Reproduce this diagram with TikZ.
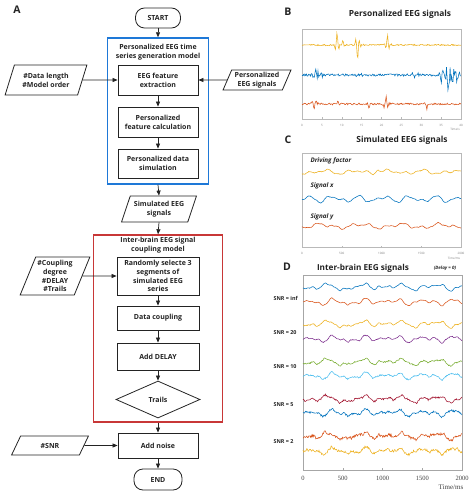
\documentclass[tikz,border=0pt]{standalone}
\usepackage{fontspec}
\setmainfont{Open Sans}
\newfontfamily\tnr{Liberation Serif}
\usetikzlibrary{arrows.meta,shapes.geometric}
\definecolor{mblue}{RGB}{0,114,189}
\definecolor{morange}{RGB}{217,83,25}
\definecolor{myellow}{RGB}{237,177,32}
\definecolor{mpurple}{RGB}{126,47,142}
\definecolor{mgreen}{RGB}{119,172,48}
\definecolor{mcyan}{RGB}{77,190,238}
\definecolor{mcrimson}{RGB}{162,20,47}
\definecolor{boxblue}{RGB}{30,120,215}
\definecolor{boxred}{RGB}{200,55,55}
\definecolor{ink}{RGB}{35,35,35}
\newcommand\ftxt{\fontsize{7}{8.8}\selectfont\bfseries}
\newcommand\fttl{\fontsize{8.4}{10}\selectfont\bfseries}
\newcommand\fpanel{\fontsize{10.5}{12}\selectfont\bfseries}
\newcommand\ftick{\fontsize{3}{3.6}\selectfont}
\tikzset{
  proc/.style={draw=ink, line width=0.8pt, fill=white, text=ink, minimum width=80pt, align=center, font=\ftxt, inner sep=1pt},
  io/.style={trapezium, trapezium left angle=66, trapezium right angle=114, trapezium stretches=true, draw=ink, line width=0.8pt, text=ink, align=center, font=\ftxt, inner sep=1pt},
  term/.style={draw=ink, rounded corners=9pt, line width=0.8pt, text=ink, align=center, font=\ftxt, inner sep=1pt},
  arr/.style={-{Triangle[length=5pt,width=4pt]}, line width=0.7pt, draw=ink},
  ttl/.style={font=\fttl, text=ink},
  pl/.style={font=\fpanel, text=ink},
  sig/.style={line width=0.55pt},
  frm/.style={draw=gray!55, line width=0.4pt},
  declare function={
    tri(\p,\c,\w)=max(0,1-abs(\p-\c)/\w);
    spk(\p,\c,\w)=tri(\p,\c,\w)*tri(\p,\c,\w)*cos(90*(\p-\c));
    bur(\p,\c,\w)=tri(\p,\c,\w)*rand;
    bump(\p,\c,\w)=tri(\p,\c,\w)*tri(\p,\c,\w);
    gA(\p)=2.0*sin(10*\p+40)+1.5*sin(19*\p+160)+0.9*sin(33*\p+300)+0.4*sin(61*\p)+2.4*bump(\p,44,7)-2.6*bump(\p,76,10);
    gB(\p)=1.8*sin(12*\p+250)+1.4*sin(21*\p+20)+0.9*sin(31*\p+120)+0.4*sin(57*\p+90)-2.2*bump(\p,77,12)+1.6*bump(\p,45,6);
  }
}
\begin{document}
\begin{tikzpicture}[x=1pt,y=-1pt]
\useasboundingbox (0,0) rectangle (474,492);
\pgfmathsetseed{7}
% ---------------- Panel A -----------------
\node[pl] (la) at (17,10) {A};
\node[term, minimum width=45pt, minimum height=20pt] (start) at (158,18) {START};
\node[draw=boxblue, line width=1.4pt, minimum width=101pt, minimum height=146pt, inner sep=0pt] (blue) at (158,111) {};
\node[font=\ftxt, text=ink, align=center] (bt) at (158,52) {Personalized EEG time\\series generation model};
\node[proc, minimum height=30pt] (b1) at (158,80) {EEG feature\\extraction};
\node[proc, minimum height=30pt] (b2) at (158,122) {Personalized\\feature calculation};
\node[proc, minimum height=29pt] (b3) at (158,163.5) {Personalized data\\simulation};
\node[io, minimum width=82pt, minimum height=30pt] (p1) at (46,80) {\#Data length\\\#Model order};
\node[io, minimum width=68pt, minimum height=20pt] (p2) at (257,80) {Personalized\\EEG signals};
\node[io, minimum width=75pt, minimum height=26pt] (sim) at (159,209) {Simulated EEG\\signals};
\node[draw=boxred, line width=1.4pt, minimum width=129pt, minimum height=187pt, inner sep=0pt] (red) at (158,328.5) {};
\node[font=\ftxt, text=ink, align=center] (rt) at (158,245) {Inter-brain EEG signal\\coupling model};
\node[proc, minimum width=82pt, minimum height=38pt] (r1) at (158,276) {Randomly selecte 3\\segments of\\simulated EEG\\series};
\node[io, minimum width=70pt, minimum height=38pt] (p3) at (55,276) {\#Coupling\\degree\\\#DELAY\\\#Trails};
\node[proc, minimum width=82pt, minimum height=24pt] (r2) at (158,318) {Data coupling};
\node[proc, minimum width=82pt, minimum height=27pt] (r3) at (158,356.5) {Add DELAY};
\node[diamond, draw=ink, line width=0.8pt, text=ink, font=\ftxt, minimum width=84pt, minimum height=37pt, inner sep=0pt] (tr) at (158,399.5) {Trails};
\node[proc, minimum width=80pt, minimum height=25pt] (noise) at (158,445.5) {Add noise};
\node[io, minimum width=77pt, minimum height=19pt] (snr) at (50,445.5) {\#SNR};
\node[term, minimum width=48pt, minimum height=21pt] (end) at (158,479.5) {END};
\draw[arr] (start) -- (blue.north);
\draw[arr] (p1.east) -- (b1.west);
\draw[arr] (p2.west) -- (b1.east);
\draw[arr] (b1) -- (b2);
\draw[arr] (b2) -- (b3);
\draw[arr] (blue.south) -- (sim.north);
\draw[arr] (sim.south) -- (red.north);
\draw[arr] (p3.east) -- (r1.west);
\draw[arr] (r1) -- (r2);
\draw[arr] (r2) -- (r3);
\draw[arr] (r3) -- (tr);
\draw[arr] (red.south) -- (noise.north);
\draw[arr] (snr.east) -- (noise.west);
\draw[arr] (noise) -- (end);
% ---------------- Panel B -----------------
\node[pl] (lb) at (288,12) {B};
\node[ttl] (tb) at (400,14) {Personalized EEG signals};
\draw[frm] (302,29) rectangle (461,119);
\foreach \i [count=\k from 0] in {0,5,...,40}{
  \draw[gray!55, line width=0.3pt] ({302+\k*19.875},119) -- ++(0,-1.5);
  \node[font=\ftick, text=gray] at ({302+\k*19.875},125) {\i};
}
\node[font=\ftick, text=gray] at (455,129) {Time/s};
\draw[sig, myellow] plot[domain=0:159, samples=220] ({302+\x},{45+0.7*rand-14*spk(\x,35,4)-6*spk(\x,41,3)+18*spk(\x,55.5,4)+3*bur(\x,57,6)-9*spk(\x,85.5,4)+3*bur(\x,86,6)+2*bur(\x,38,5)});
\draw[sig, mblue] plot[domain=0:159, samples=220] ({302+\x},{75+1.1*rand+7*bur(\x,15,7)-6*spk(\x,14,3)+11*bur(\x,149,13)+2.5*bur(\x,112,12)+2*bur(\x,55,10)+10*spk(\x,139,3)-9*spk(\x,153,3)+8*spk(\x,146,3)});
\draw[sig, morange] plot[domain=0:159, samples=220] ({302+\x},{104+0.9*rand+9*spk(\x,12,4)+4*bur(\x,12,6)-4*spk(\x,36,3)+5*spk(\x,67,3)-6*spk(\x,84,4)+3*bur(\x,84,8)+5*spk(\x,125,3)+3*bur(\x,125,6)});
% ---------------- Panel C -----------------
\node[pl] (lc) at (288,140) {C};
\node[ttl] (tc) at (402,140) {Simulated EEG signals};
\draw[frm] (302,153) rectangle (461,247);
\foreach \i [count=\k from 0] in {0,500,1000,1500,2000}{
  \draw[gray!55, line width=0.3pt] ({302+\k*39.75},247) -- ++(0,-1.5);
  \node[font=\ftick, text=gray] at ({302+\k*39.75},253) {\i};
}
\node[font=\ftick, text=gray] at (454,258) {Time/ms};
\node[font=\fontsize{6.3}{7}\selectfont\bfseries\itshape, text=ink, anchor=west] (cdf) at (307,161) {Driving factor};
\node[font=\fontsize{6.3}{7}\selectfont\bfseries\itshape, text=ink, anchor=west] (csx) at (307,186) {Signal x};
\node[font=\fontsize{6.3}{7}\selectfont\bfseries\itshape, text=ink, anchor=west] (csy) at (307,217) {Signal y};
\draw[sig, myellow] plot[domain=0:159, samples=220] ({302+\x},{172+1.4*sin(11*\x+30)+1.1*sin(19*\x+120)+0.7*sin(37*\x+10)+0.35*rand-3.5*bump(\x,76,6)});
\draw[sig, mblue] plot[domain=0:159, samples=220] ({302+\x},{199+2.2*sin(14*\x+200)+1.4*sin(23*\x+40)+0.6*sin(41*\x)+0.3*rand});
\draw[sig, morange] plot[domain=0:159, samples=220] ({302+\x},{226+1.7*sin(9*\x+100)+1.3*sin(21*\x+300)+0.5*sin(47*\x)+0.3*rand});
% ---------------- Panel D -----------------
\node[pl] (ld) at (287,267) {D};
\node[ttl, font=\fontsize{8.2}{10}\selectfont\bfseries] (td) at (363,268) {Inter-brain EEG signals};
\node[font=\fontsize{4.5}{5}\selectfont\bfseries\itshape, text=ink] (tdd) at (445,268) {(Delay = 0)};
\draw[draw=gray!70, line width=0.5pt] (303,275) rectangle (462,470);
\foreach \i [count=\k from 0] in {0,500,1000,1500,2000}{
  \draw[gray!70, line width=0.4pt] ({303+\k*39.75},470) -- ++(0,-2);
  \node[font=\tnr\fontsize{6.5}{7}\selectfont, text=black!75] at ({303+\k*39.75},478) {\i};
}
\node[font=\tnr\fontsize{7}{8}\selectfont, text=black!75] at (451,487) {Time/ms};
\foreach \lab/\yy in {SNR = inf/298, SNR = 20/333, SNR = 10/367, SNR = 5/405, SNR = 2/442}{
  \node[font=\fontsize{5.4}{6}\selectfont\bfseries, text=ink, anchor=west] at (270,\yy) {\lab};
}
\draw[sig, mblue]    plot[domain=0:159, samples=250] ({303+\x},{287+gA(\x)+0.2*rand});
\draw[sig, morange]  plot[domain=0:159, samples=250] ({303+\x},{302+gB(\x)+0.2*rand});
\draw[sig, myellow]  plot[domain=0:159, samples=250] ({303+\x},{324+gA(\x)+0.4*rand});
\draw[sig, mpurple]  plot[domain=0:159, samples=250] ({303+\x},{339+gB(\x)+0.4*rand});
\draw[sig, mgreen]   plot[domain=0:159, samples=250] ({303+\x},{362+gA(\x)+0.6*rand});
\draw[sig, mcyan]    plot[domain=0:159, samples=250] ({303+\x},{376+gB(\x)+0.6*rand});
\draw[sig, mcrimson] plot[domain=0:159, samples=250] ({303+\x},{399+gA(\x)+0.9*rand});
\draw[sig, mblue]    plot[domain=0:159, samples=250] ({303+\x},{413+gB(\x)+0.9*rand});
\draw[sig, morange]  plot[domain=0:159, samples=250] ({303+\x},{436+gA(\x)+1.3*rand});
\draw[sig, myellow]  plot[domain=0:159, samples=250] ({303+\x},{451+gB(\x)+1.3*rand});
\end{tikzpicture}
\end{document}
